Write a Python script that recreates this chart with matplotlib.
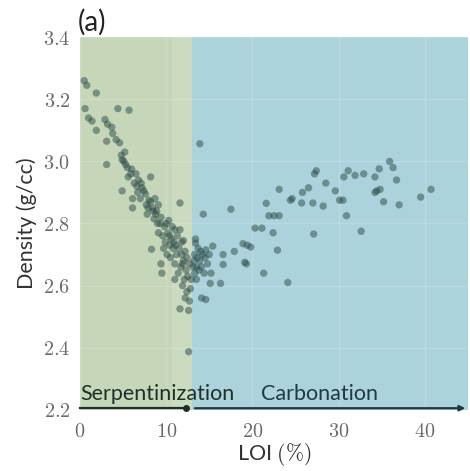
import matplotlib
matplotlib.use("Agg")
from matplotlib import pyplot as plt
from matplotlib.ticker import FuncFormatter

plt.rcParams['mathtext.fontset'] = 'cm'

# serpentinization trend (LOI %, density g/cc)
loi_serp = [0.5, 0.8, 1.9, 0.6, 4.4, 5.7, 1.0, 1.4, 2.9, 3.2, 1.9, 3.7, 3.8, 4.2, 4.6,
            3.1, 4.8, 5.1, 4.9, 3.1, 5.5, 5.9, 5.3, 6.0, 8.2, 6.5, 6.8, 7.2, 7.1, 4.9,
            6.1, 6.1, 7.6, 8.0, 8.4, 7.4, 8.7, 9.1, 8.2, 11.6, 8.8, 9.4, 10.3, 9.1, 10.6,
            12.0, 7.8, 8.6, 9.8, 10.0, 9.6, 10.2, 10.7, 11.0, 10.9, 11.3, 11.5, 11.8, 12.2, 11.2,
            10.8, 12.0, 11.7, 12.3, 11.0, 10.5, 8.3, 9.4, 9.5, 11.4, 12.1, 11.9, 12.4, 12.8, 11.6,
            12.6, 12.6, 11.0, 12.5, 10.4, 9.9, 11.6, 12.4, 12.7, 9.0, 8.5, 7.7, 6.7, 6.3, 5.6,
            7.0, 9.7, 10.1, 12.9, 12.7, 12.2, 11.8, 5.2, 6.6, 7.9, 8.9, 9.3, 10.4, 11.1, 11.9]
dens_serp = [3.26, 3.245, 3.22, 3.17, 3.17, 3.165, 3.14, 3.13, 3.135, 3.12, 3.10, 3.11, 3.09, 3.07, 3.06,
             3.065, 3.02, 3.0, 3.005, 2.99, 2.98, 2.96, 2.99, 2.975, 2.95, 2.96, 2.94, 2.915, 2.93, 2.905,
             2.88, 2.85, 2.895, 2.875, 2.85, 2.905, 2.88, 2.86, 2.87, 2.866, 2.83, 2.82, 2.81, 2.77, 2.75,
             2.745, 2.83, 2.815, 2.79, 2.8, 2.76, 2.77, 2.79, 2.78, 2.74, 2.76, 2.72, 2.70, 2.71, 2.70,
             2.72, 2.68, 2.66, 2.65, 2.67, 2.69, 2.717, 2.67, 2.64, 2.64, 2.62, 2.60, 2.58, 2.59, 2.525,
             2.52, 2.387, 2.62, 2.63, 2.73, 2.74, 2.78, 2.69, 2.67, 2.80, 2.84, 2.86, 2.90, 2.93, 2.95,
             2.88, 2.72, 2.70, 2.62, 2.55, 2.56, 2.74, 3.03, 2.92, 2.85, 2.84, 2.80, 2.76, 2.73, 2.67]

# carbonation points
loi_carb = [13.9, 14.3, 17.5, 35.9, 36.3, 36.7, 34.7, 34.2, 32.9, 31.9, 31.1, 30.6, 27.2, 27.4, 28.5,
            29.6, 26.5, 25.8, 24.6, 24.4, 23.1, 21.6, 25.7, 27.0, 28.2, 30.1, 30.5, 34.4, 34.8, 34.2,
            35.2, 37.0, 39.5, 40.7, 30.9, 32.6, 27.1, 21.9, 22.5, 23.1, 20.3, 21.1, 22.4, 22.9, 19.8,
            18.9, 19.4, 17.9, 19.1, 19.3, 21.3, 24.1, 16.6, 16.6, 15.4, 15.1, 14.1, 14.6, 16.3, 13.4,
            13.4, 13.3, 13.6, 13.9, 14.2, 14.5, 14.8, 13.5, 13.8, 14.1, 14.4, 13.2, 15.0, 13.7, 14.0,
            13.3, 15.2, 14.6, 13.5, 13.1]
dens_carb = [3.057, 2.83, 2.846, 3.0, 2.98, 2.94, 2.976, 2.95, 2.96, 2.955, 2.97, 2.95, 2.96, 2.97, 2.93,
             2.905, 2.915, 2.9, 2.88, 2.875, 2.91, 2.865, 2.866, 2.866, 2.856, 2.875, 2.875, 2.905, 2.91, 2.90,
             2.87, 2.86, 2.885, 2.91, 2.825, 2.775, 2.766, 2.825, 2.825, 2.825, 2.785, 2.785, 2.77, 2.714, 2.724,
             2.735, 2.73, 2.71, 2.675, 2.67, 2.64, 2.61, 2.70, 2.668, 2.727, 2.607, 2.56, 2.555, 2.607, 2.737,
             2.75, 2.70, 2.69, 2.68, 2.70, 2.69, 2.67, 2.66, 2.65, 2.66, 2.64, 2.68, 2.70, 2.72, 2.71,
             2.64, 2.64, 2.715, 2.62, 2.66]

serp_range = [0, 13]
carb_range = [13, 45]

fig = plt.figure(figsize=(4.7, 4.71), dpi=100)
ax = fig.add_axes([0.170, 0.130, 0.826, 0.791])

ax.axvspan(serp_range[0], serp_range[1], color='#c6d7b9', lw=0, zorder=0)
ax.axvspan(10.7, serp_range[1], color='#ffffff', alpha=0.1, lw=0, zorder=0)
ax.axvspan(carb_range[0], carb_range[1], color='#acd3dc', lw=0, zorder=0)

ax.scatter(loi_serp + loi_carb, dens_serp + dens_carb, s=28, color='#2c4a48',
           alpha=0.5, edgecolors='none', zorder=3)

# process arrows
ax.plot([serp_range[0], 12.3], [2.205, 2.205], color='#1d2d2a', lw=1.6, zorder=4, clip_on=False)
ax.plot([12.3], [2.205], 'o', color='#1d2d2a', ms=4, zorder=4, clip_on=False)
ax.annotate('', xy=(carb_range[1], 2.205), xytext=(carb_range[0], 2.205),
            arrowprops=dict(arrowstyle='-|>', color='#1d3a40', lw=1.6, mutation_scale=8),
            annotation_clip=False, zorder=4)
ax.text(0.05, 2.218, 'Serpentinization', fontsize=15.5, family='Lato', color='#1e3028',
        ha='left', va='bottom')
ax.text(21.0, 2.218, 'Carbonation', fontsize=15.5, family='Lato', color='#1e3a44',
        ha='left', va='bottom')

ax.set_xlim(0, 45)
ax.set_ylim(2.2, 3.4)
ax.set_xticks([0, 10, 20, 30, 40])
ax.set_yticks([2.2, 2.4, 2.6, 2.8, 3.0, 3.2, 3.4])
ax.xaxis.set_major_formatter(FuncFormatter(lambda v, p: '$%d$' % v))
ax.yaxis.set_major_formatter(FuncFormatter(lambda v, p: '$%.1f$' % v))
ax.tick_params(length=0, labelsize=14.5, labelcolor='#6a6a6a')
ax.tick_params(axis='x', pad=9)
ax.tick_params(axis='y', pad=7)
ax.grid(color='white', alpha=0.15, lw=1)
ax.set_axisbelow(True)
for s in ax.spines.values():
    s.set_visible(False)

ax.set_xlabel(r'LOI $(\%)$', fontsize=15.5, family='Lato', color='#333333', labelpad=0)
ax.set_ylabel('Density (g/cc)', fontsize=15.5, family='Lato', color='#333333', labelpad=4)
fig.text(0.166, 0.935, '(a)', fontsize=20, family='Lato', color='#222222')

fig.savefig('out.png', dpi=100)
